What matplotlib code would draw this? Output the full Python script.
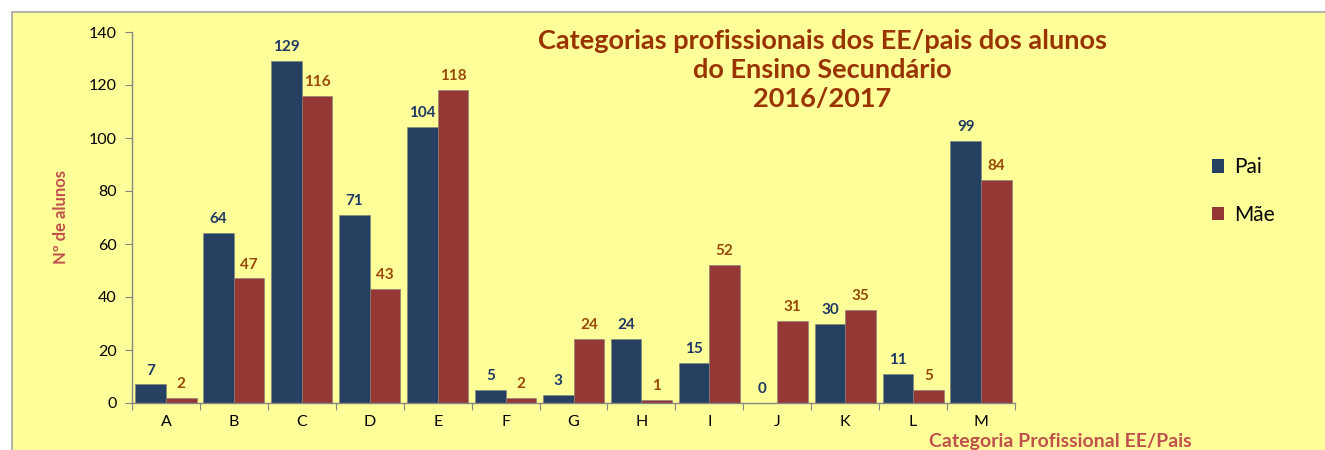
import matplotlib
matplotlib.use("Agg")
import matplotlib.pyplot as plt
import numpy as np
from matplotlib.patches import Rectangle, Patch

categories = ["A", "B", "C", "D", "E", "F", "G", "H", "I", "J", "K", "L", "M"]
pai = [7, 64, 129, 71, 104, 5, 3, 24, 15, 0, 30, 11, 99]
mae = [2, 47, 116, 43, 118, 2, 24, 1, 52, 31, 35, 5, 84]
yticks = [0, 20, 40, 60, 80, 100, 120, 140]

plt.rcParams['font.family'] = ['Lato', 'DejaVu Sans']

W, H = 1325, 450
fig = plt.figure(figsize=(W / 100, H / 100), dpi=100)
fig.patch.set_facecolor("white")
bg = Rectangle((12 / W, -0.1), 1.2, (H - 12) / H + 0.1, transform=fig.transFigure,
               facecolor="#FFFF99", edgecolor="#A6A6A6", linewidth=1.2, zorder=-10)
fig.patches.append(bg)

ax = fig.add_axes([132 / W, (H - 403) / H, 883 / W, 371 / H])
ax.set_facecolor("none")
ax.set_zorder(1)

c_pai = "#264061"
c_mae = "#943735"
x = np.arange(len(categories))
bw = 0.45
b1 = ax.bar(x - bw / 2, pai, bw, color=c_pai, edgecolor="#7f7f7f", linewidth=0.4, label="Pai")
b2 = ax.bar(x + bw / 2, mae, bw, color=c_mae, edgecolor="#7f7f7f", linewidth=0.4, label="Mãe")

for rect, v in zip(b1, pai):
    ax.annotate(str(v), (rect.get_x() + rect.get_width() / 2, v), xytext=(0, 5),
                textcoords="offset points", ha="center", va="bottom",
                fontsize=11, fontweight="bold", color="#1F3864")
for rect, v in zip(b2, mae):
    ax.annotate(str(v), (rect.get_x() + rect.get_width() / 2, v), xytext=(0, 5),
                textcoords="offset points", ha="center", va="bottom",
                fontsize=11, fontweight="bold", color="#984807")

ax.set_xlim(-0.5, len(categories) - 0.5)
ax.set_ylim(0, 140)
ax.set_yticks(yticks)
ax.set_yticklabels([str(t) for t in yticks], fontsize=11.5)
ax.set_xticks(np.arange(len(categories) + 1) - 0.5)
ax.set_xticklabels([])
ax.set_xticks(x, minor=True)
ax.set_xticklabels(categories, minor=True, fontsize=11.5)
ax.tick_params(axis="x", which="minor", length=0, pad=9)
ax.tick_params(axis="x", which="major", length=5, color="#868686", direction="out")
ax.tick_params(axis="y", length=5, color="#868686", direction="out", pad=6)
for s in ["top", "right"]:
    ax.spines[s].set_visible(False)
for s in ["left", "bottom"]:
    ax.spines[s].set_color("#868686")
    ax.spines[s].set_linewidth(1.0)

ax.set_ylabel("Nº de alunos", fontsize=12, fontweight="bold", color="#C0504D", labelpad=14)
fig.text(1060 / W, 1 - 442 / H, "Categoria Profissional EE/Pais", ha="center", va="center",
         fontsize=14, fontweight="bold", color="#C0504D")

fig.text(822 / W, 1 - 70 / H, "Categorias profissionais dos EE/pais dos alunos\ndo Ensino Secundário\n2016/2017",
         ha="center", va="center", fontsize=19.5, fontweight="bold", color="#993300", linespacing=1.25)

handles = [Patch(facecolor=c_pai, label="Pai"), Patch(facecolor=c_mae, label="Mãe")]
fig.legend(handles=handles, loc="center left", bbox_to_anchor=(1193 / W, 1 - 191 / H),
           frameon=False, fontsize=15, handlelength=0.6, handleheight=0.6,
           handletextpad=0.45, labelspacing=1.3)

fig.savefig("out.png", dpi=100)
